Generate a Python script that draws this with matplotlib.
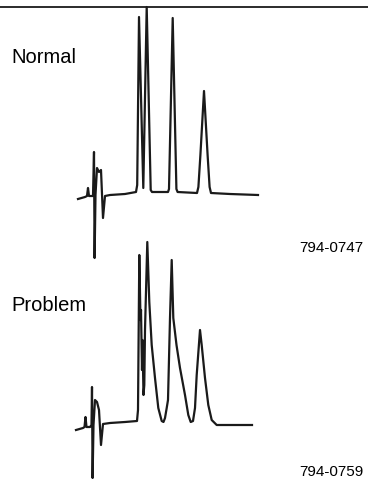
import matplotlib.pyplot as plt

plt.rcParams['font.family'] = ['Liberation Sans', 'DejaVu Sans']

# retention time (min) and detector signal for the normal run
normal_t = [0.10, 0.45, 0.55, 0.60, 0.65, 0.75, 0.85, 0.90, 0.93, 0.975,
            1.05, 1.15, 1.25, 1.35, 1.45, 1.70, 2.45, 3.00, 3.06, 3.15,
            3.365, 3.535, 3.735, 3.80, 4.20, 4.60, 4.65, 4.835, 5.02, 5.08,
            6.05, 6.12, 6.22, 6.40, 6.58, 6.68, 6.75, 7.70, 9.10]
normal_s = [-2.0, -1.0, -0.5, 3.5, -0.5, -0.5, -0.5, 21.5, -31.5, 0.0,
            13.5, 11.5, 12.5, -11.5, -0.5, 0.0, 0.5, 1.5, 5.0, 89.0,
            3.5, 94.0, 2.5, 1.5, 1.5, 1.5, 3.0, 88.5, 3.0, 1.5,
            1.0, 4.0, 20.0, 52.0, 20.0, 4.0, 1.0, 0.5, 0.0]

# same column after the fault: tailing, partly merged peaks
problem_t = [0.00, 0.35, 0.425, 0.475, 0.525, 0.70, 0.775, 0.80, 0.83, 0.875,
             0.95, 1.05, 1.15, 1.25, 1.35, 1.70, 2.45, 3.05, 3.10, 3.165,
             3.225, 3.25, 3.30, 3.325, 3.375, 3.415, 3.45, 3.565, 3.665, 3.785,
             3.95, 4.115, 4.285, 4.375, 4.45, 4.535, 4.60, 4.70, 4.785, 4.865,
             5.025, 5.20, 5.45, 5.615, 5.735, 5.85, 5.95, 6.035, 6.20, 6.285,
             6.45, 6.615, 6.785, 7.035, 8.80]
problem_s = [-2.5, -1.5, -1.0, 4.0, -1.0, -1.0, 0.0, 19.0, -26.5, 0.0,
             12.5, 11.5, 7.5, -10.0, 0.5, 1.0, 1.5, 2.0, 7.5, 85.0,
             52.5, 57.5, 27.5, 42.5, 15.0, 20.0, 47.5, 91.5, 61.5, 40.0,
             23.5, 8.5, 2.0, 1.5, 3.5, 8.5, 12.5, 53.5, 82.5, 53.5,
             40.0, 28.5, 15.0, 5.0, 1.5, 2.0, 8.5, 25.0, 47.5, 40.0,
             23.5, 10.0, 2.5, 0.0, 0.0]

labels = ['Normal', 'Problem']
codes = ['794-0747', '794-0759']

W, H = 368, 479
fig = plt.figure(figsize=(W / 100, H / 100), dpi=100)

ax1 = fig.add_axes([0, 1 - 262 / H, 1, 255 / H])
ax2 = fig.add_axes([0, 0, 1, 247 / H])

for ax in (ax1, ax2):
    ax.set_facecolor('none')
    ax.set_xlim(-3.8, 14.6)
    ax.set_xticks([])
    ax.set_yticks([])
    for side in ('left', 'right', 'bottom', 'top'):
        ax.spines[side].set_visible(False)

ax1.set_ylim(-33.5, 94)
ax2.set_ylim(-27, 96.5)
ax1.spines['top'].set_visible(True)
ax1.spines['top'].set_linewidth(1.3)
ax1.spines['top'].set_color('#1a1a1a')

ax1.plot(normal_t, normal_s, color='#1a1a1a', lw=1.6, clip_on=False,
         solid_joinstyle='round')
ax2.plot(problem_t, problem_s, color='#1a1a1a', lw=1.6, clip_on=False,
         solid_joinstyle='round')

fig.text(11 / W, 1 - 63 / H, labels[0], fontsize=14.5, va='baseline')
fig.text(11 / W, 1 - 311 / H, labels[1], fontsize=14.5, va='baseline')
fig.text(363 / W, 1 - 252 / H, codes[0], fontsize=11, ha='right', va='baseline')
fig.text(364 / W, 1 - 476 / H, codes[1], fontsize=11, ha='right', va='baseline')

fig.savefig('out.png', dpi=100)
